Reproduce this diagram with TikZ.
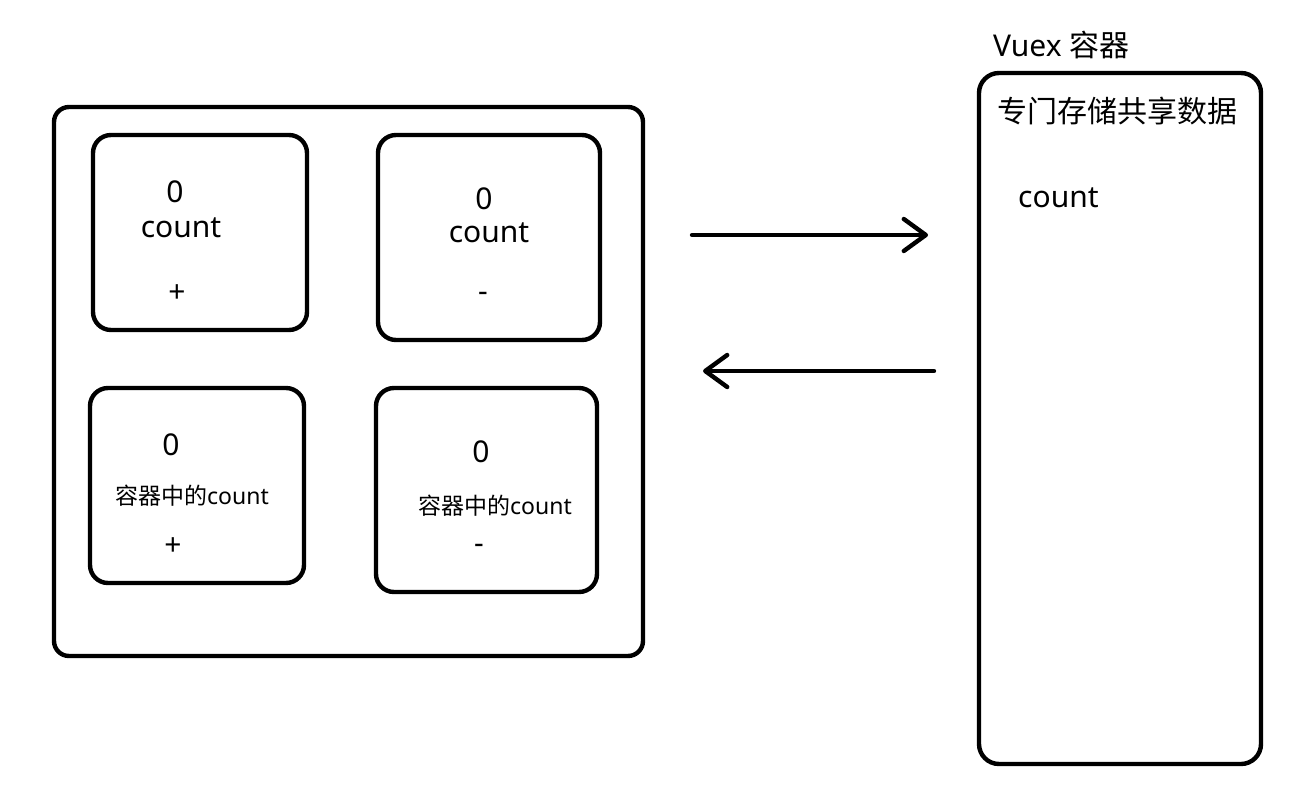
\documentclass[tikz,border=0pt]{standalone}
\usepackage{fontspec}
\setmainfont{Noto Sans}
\newfontfamily\cjk{Noto Sans CJK SC}
\usetikzlibrary{arrows.meta}
\begin{document}
\begin{tikzpicture}[x=1pt,y=-1pt,
  box/.style={draw=black,line width=4.4pt,rounded corners=18pt,inner sep=0pt,outer sep=0pt},
  big/.style={inner sep=0pt,font=\fontsize{30}{36}\selectfont},
  mid/.style={inner sep=0pt,font=\fontsize{23}{28}\selectfont},
  sign/.style={inner sep=0pt,font=\fontsize{30}{36}\selectfont},
  arr/.style={line width=4.4pt,line cap=round,-{Straight Barb[length=22pt,width=32pt,line cap=round,round]}}]
\useasboundingbox (0,0) rectangle (1298,787);
% outer container
\node[box,rounded corners=15pt,minimum width=589pt,minimum height=549pt] (outer) at (348.5,381.5) {};
% four components
\node[box,minimum width=214pt,minimum height=195pt] (b1) at (200,232.5) {};
\node[box,minimum width=222pt,minimum height=205pt] (b2) at (489,237.5) {};
\node[box,minimum width=214pt,minimum height=195pt] (b3) at (197,485.5) {};
\node[box,minimum width=221pt,minimum height=204pt] (b4) at (486.5,490) {};
% texts in b1
\node[big] (b1zero) at (175,192) {0};
\node[big] (b1count) at (181,228) {count};
\node[sign] (b1plus) at (177,294) {+};
% texts in b2
\node[big] (b2zero) at (484,199) {0};
\node[big] (b2count) at (489,233) {count};
\node[sign] (b2minus) at (483,297) {-};
% texts in b3
\node[big] (b3zero) at (171,445) {0};
\node[mid] (b3count) at (192,496) {{\cjk 容器中的}count};
\node[sign] (b3plus) at (173,547) {+};
% texts in b4
\node[big] (b4zero) at (481,452) {0};
\node[mid] (b4count) at (495,506) {{\cjk 容器中的}count};
\node[sign] (b4minus) at (479,549) {-};
% Vuex store
\node[box,rounded corners=20pt,minimum width=282pt,minimum height=691pt] (store) at (1120,418.5) {};
\node[big,anchor=west] (vuex) at (993,45) {Vuex {\cjk 容器}};
\node[big,anchor=west] (share) at (997,111) {\cjk 专门存储共享数据};
\node[big,anchor=west] (scount) at (1018,198) {count};
% arrows
\coordinate (a1s) at (692,235);
\coordinate (a1e) at (928,235);
\coordinate (a2s) at (934,371);
\coordinate (a2e) at (703,371);
\draw[arr] (a1s) -- (a1e);
\draw[arr] (a2s) -- (a2e);
\end{tikzpicture}
\end{document}
